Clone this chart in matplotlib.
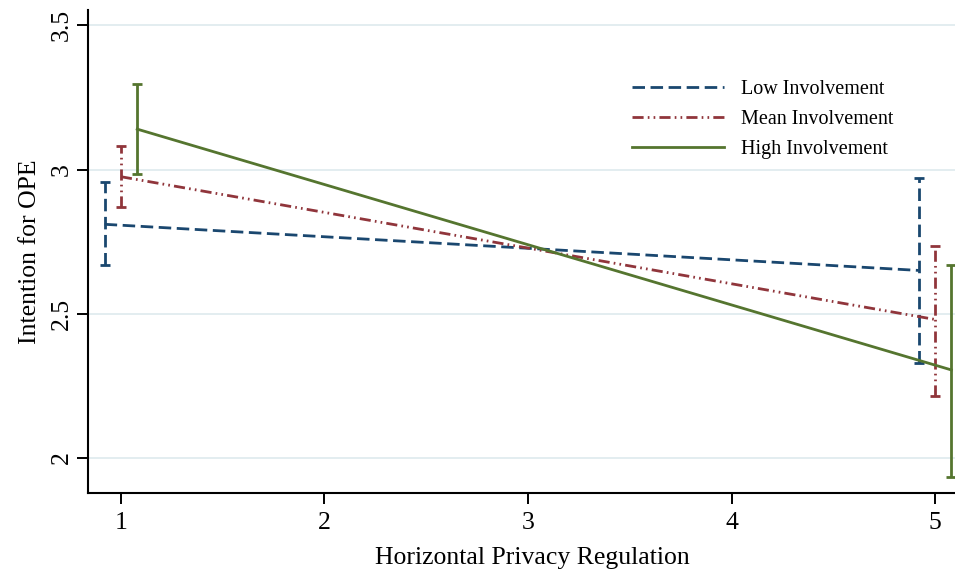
import matplotlib
matplotlib.use("Agg")
import matplotlib.pyplot as plt

plt.rcParams['font.family'] = ['Liberation Serif', 'DejaVu Serif']
plt.rcParams['lines.scale_dashes'] = False

# Data
series = ["Low Involvement", "Mean Involvement", "High Involvement"]
x_low = [0.92, 4.92]
x_mean = [1.00, 5.00]
x_high = [1.08, 5.08]
y_low = [2.81, 2.65]
y_mean = [2.975, 2.48]
y_high = [3.14, 2.305]
lo_low = [2.67, 2.33]
hi_low = [2.955, 2.97]
lo_mean = [2.87, 2.215]
hi_mean = [3.08, 2.735]
lo_high = [2.985, 1.935]
hi_high = [3.295, 2.67]
x_ticks = [1, 2, 3, 4, 5]
y_ticks = [2, 2.5, 3, 3.5]
y_tick_labels = ["2", "2.5", "3", "3.5"]

colors = ["#1a476f", "#90353b", "#55752f"]
dashes = [(0, (9, 4)), (0, (8, 3, 1.2, 3, 1.2, 3)), "solid"]

fig = plt.figure(figsize=(9.55, 5.73), dpi=100)
ax = fig.add_axes([0.0921, 0.140, 0.9079, 0.8425])

for yt in y_ticks:
    ax.axhline(yt, color="#e3edf0", lw=1.4, zorder=0)

xs = [x_low, x_mean, x_high]
ys = [y_low, y_mean, y_high]
los = [lo_low, lo_mean, lo_high]
his = [hi_low, hi_mean, hi_high]
cap = 0.024
lw = 2.0
for name, x, y, lo, hi, c, ls in zip(series, xs, ys, los, his, colors, dashes):
    ax.plot(x, y, color=c, linestyle=ls, lw=lw, label=name, zorder=3)
    ax.vlines(x, lo, hi, colors=c, linestyles=ls, lw=lw, zorder=3)
    for xi, l, h in zip(x, lo, hi):
        ax.hlines([l, h], xi - cap, xi + cap, colors=c, lw=lw, zorder=3)

ax.set_xlim(0.838, 5.098)
ax.set_ylim(1.879, 3.553)
ax.set_xticks(x_ticks)
ax.set_yticks(y_ticks)
ax.set_yticklabels(y_tick_labels, rotation=90, va="center")
ax.tick_params(axis="both", direction="out", length=8, width=1.4, labelsize=18.5, pad=3)
ax.tick_params(axis="x", pad=6)
for s in ["top", "right"]:
    ax.spines[s].set_visible(False)
for s in ["left", "bottom"]:
    ax.spines[s].set_linewidth(1.5)

ax.set_xlabel("Horizontal Privacy Regulation", fontsize=18.5)
ax.xaxis.set_label_coords(0.513, -0.113)
ax.set_ylabel("Intention for OPE", fontsize=18.5, labelpad=7)

leg = ax.legend(loc="upper left", bbox_to_anchor=(0.618, 0.872), frameon=False,
                fontsize=14.5, handlelength=4.6, handletextpad=0.8, labelspacing=0.55,
                borderaxespad=0)

fig.savefig("out.png", dpi=100)
